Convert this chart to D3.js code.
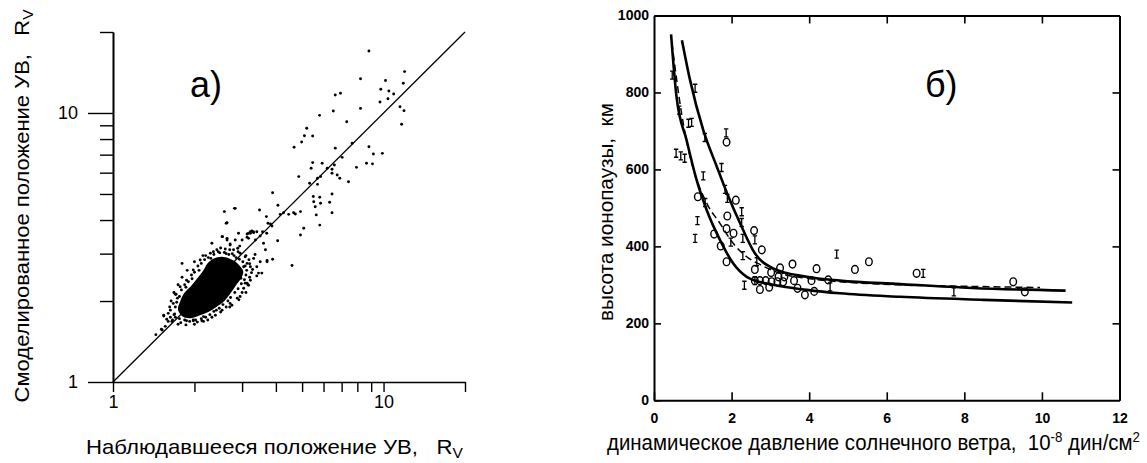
<!DOCTYPE html>
<html><head><meta charset="utf-8">
<script src="https://cdn.jsdelivr.net/npm/d3@7"></script>
<style>
body{margin:0;background:#fff}
svg{display:block}
text{font-family:Arial,"Liberation Sans",sans-serif;white-space:pre;fill:#000}
</style>
</head><body>
<svg id="c" width="1147" height="463"></svg>
<script>
// ---------- Panel a data (log-log, R_V units) ----------
const aTicksMajor = [1, 10];
const aTicksMinor = [2, 3, 4, 5, 6, 7, 8, 9, 20];
const aTickLabels = ["1", "10"];
const aDomain = [1, 20];
// outline of the dense core of observations
const aCoreOutline = [
  [1.74,1.85],[1.77,1.99],[1.84,2.15],[1.94,2.27],[2.05,2.43],[2.16,2.6],[2.23,2.75],
  [2.35,2.87],[2.52,2.92],[2.69,2.88],[2.84,2.8],[2.96,2.68],[3.03,2.58],[2.99,2.45],
  [2.85,2.29],[2.73,2.15],[2.58,2.0],[2.41,1.9],[2.25,1.82],[2.1,1.77],[1.96,1.73],[1.83,1.74]
];
// individual observed/modelled points
const aPoints = [
  [8.83,17.0],[11.96,14.25],[8.22,13.4],[10.17,13.2],[9.77,12.25],[10.46,12.07],[10.9,11.77],
  [11.83,12.9],[9.7,10.99],[10.38,11.3],[11.5,10.55],[11.9,10.2],[11.66,9.08],[8.22,10.4],
  [6.63,11.67],[6.93,11.84],[6.52,10.17],[5.8,9.8],[7.31,9.28],[5.2,8.77],[5.1,8.23],
  [5.47,8.21],[4.98,7.8],[4.67,7.46],[7.66,7.72],[6.63,7.4],[7.03,6.84],[8.83,7.49],
  [9.17,7.04],[9.9,7.08],[8.65,6.5],[9.1,6.47],[7.94,6.28],[7.42,5.55],[6.89,5.72],
  [6.74,5.88],[6.45,6.18],[6.58,6.41],[6.19,6.23],[6.45,5.97],[5.93,6.5],[5.85,5.8],
  [5.7,5.72],[5.47,6.54],[5.4,6.23],[5.33,5.48],[5.7,5.43],[4.86,5.8],[5.5,4.89],
  [5.52,4.68],[5.85,4.62],[5.81,4.86],[6.45,5.0],[6.32,4.66],[6.45,4.26],[5.81,3.83],
  [5.64,4.18],[5.59,4.48],[5.07,3.73],[4.93,3.52],[4.65,4.26],[4.72,4.21],[4.93,4.3],
  [3.89,5.05],[4.07,4.54],[3.48,4.36],[3.69,4.12],[4.15,4.2],[4.27,4.26],[4.46,4.2],
  [3.74,3.89],[3.82,3.87],[3.87,3.8],[3.57,3.62],[3.7,3.57],[4.06,3.35],[3.4,3.62],
  [3.22,3.57],[3.26,3.64],[3.17,3.42],[3.36,3.37],[2.58,4.3],[2.81,4.42],[2.64,3.91],
  [3.0,3.37],[3.13,3.45],[2.54,3.47],[2.64,3.37],[2.71,3.26],[2.91,3.57],[2.94,3.2],
  [4.59,2.71],[3.89,2.86],[3.71,2.83],[3.55,2.54],[3.4,2.48],[2.71,1.96],[2.53,2.02],
  [1.80,2.76],[1.71,2.12],[1.44,1.5],[1.52,1.56],[1.54,1.77],[2.16,1.68],[1.98,1.70],
  [2.41,1.85],[3.17,2.29],[3.08,2.33],[2.97,2.43],[3.13,2.76],[3.04,2.68],[3.17,3.57],
  [3.3,3.62],[2.83,3.37],[2.83,4.42],[2.62,3.89],
  [1.70,2.12],[1.54,1.76],[1.58,1.71],[1.56,1.61],[1.51,1.57],[1.63,1.74],
  [1.65,1.68],[1.87,1.69],[1.98,1.69],[2.13,1.69],[2.16,1.75],[2.32,3.28],[2.53,3.47],
  [2.64,3.42],[2.71,3.23],[2.89,3.14],[3.13,3.55],[3.22,3.62],[3.31,3.59],[3.50,3.49],
  [3.60,3.28],[3.66,3.10],[3.71,2.80],[3.50,2.80],[3.45,2.54],[3.22,2.39],[3.13,2.33],
  [3.04,2.23],[2.95,2.08],[2.75,1.93],[2.53,1.85],[2.39,1.77],[3.22,2.68],[3.31,2.88],
  [2.79,3.10],[2.95,3.01],[3.08,2.92],[2.42,3.10],[2.29,3.01],[2.10,2.84],[1.98,2.61],
  [1.87,2.39],[1.77,2.26],[1.67,1.96],[1.63,1.85],[1.93,1.85],
  [2.2,2.95],[2.45,3.05],[2.62,3.0],[2.8,2.95],[3.18,2.85],[3.25,2.55],[3.1,2.15],
  [2.92,2.02],[2.62,1.9],[2.32,1.74],[2.05,1.67],[1.78,1.66],[1.69,1.79],[1.73,2.05],
  [1.86,2.25],[1.96,2.42],[2.08,2.6],[2.3,2.88],[2.6,3.12],[3.35,2.98],[3.4,2.68],
  [1.68,1.78],[1.7,1.9],[1.72,1.98],[1.76,2.08],[1.79,2.2],[1.84,2.3],[1.9,2.36],[1.95,2.5],
  [2.0,2.56],[2.06,2.7],[2.12,2.76],[2.18,2.85],[2.25,2.9],[2.36,2.98],[2.48,3.02],[2.58,3.03],
  [2.68,2.98],[2.76,3.0],[2.85,2.9],[2.93,2.86],[3.02,2.8],[3.08,2.7],[3.12,2.6],[3.1,2.5],
  [3.06,2.4],[2.98,2.32],[2.9,2.22],[2.82,2.15],[2.72,2.06],[2.66,2.0],[2.55,1.94],[2.47,1.88],
  [2.36,1.83],[2.28,1.78],[2.2,1.74],[2.12,1.72],[2.02,1.7],[1.92,1.68],[1.84,1.7],[1.76,1.72],
  [1.7,1.74],[1.66,1.7],[1.74,1.64],[1.86,1.63],[2.0,1.64],[2.24,1.7],[2.5,1.82],[2.7,1.9],
  [2.88,2.05],[3.0,2.15],[3.15,2.3],[3.2,2.45],[3.28,2.62],[3.2,2.75],[3.1,2.95],[2.9,3.05],
  [2.7,3.1],[2.5,3.15],[2.35,3.05],[2.15,2.95],[2.0,2.8],[1.88,2.6],[1.8,2.45],[1.74,2.3],
  [1.68,2.15],[1.64,2.0],[1.62,1.9],[1.6,1.8],[1.6,1.68]
];

// ---------- Panel b data ----------
const bXTicks = [0, 2, 4, 6, 8, 10, 12];
const bYTicks = [0, 200, 400, 600, 800, 1000];
const bUpperCurve = [
  [0.72,936],[0.93,832],[1.27,702],[1.62,607],[1.92,529],[2.22,460],[2.6,382],[3.07,343],
  [3.94,321],[4.79,311],[6.34,302],[8.2,292],[10.61,285]
];
const bLowerCurve = [
  [0.44,951],[0.58,789],[0.84,676],[1.10,572],[1.36,494],[1.70,417],[2.04,356],[2.39,321],
  [3.07,300],[3.94,287],[4.79,278],[6.34,269],[8.5,261],[10.78,254]
];
const bDashedCurve = [
  [0.46,930],[0.71,746],[0.93,633],[1.36,512],[1.70,460],[2.04,408],[2.39,373],[2.75,352],
  [3.25,330],[3.94,317],[4.79,308],[6.34,300],[8.2,296],[9.95,293]
];
const bCircles = [
  [1.87,671],[1.13,529],[2.11,520],[1.89,479],[1.87,446],[2.05,434],[1.55,432],[2.58,441],
  [1.72,401],[2.78,391],[1.87,360],[2.6,340],[3.57,354],[4.19,342],[5.18,340],[5.54,360],
  [3.02,332],[3.25,344],[3.21,321],[3.36,321],[2.6,311],[2.73,311],[2.88,311],[3.03,308],
  [3.18,308],[3.33,308],[3.61,311],[2.73,288],[2.97,294],[3.70,291],[3.89,274],[4.13,283],
  [4.06,311],[4.49,313],[6.77,330],[9.26,308],[9.56,282]
];
const bBars = [
  [0.47,845],[1.06,811],[0.65,754],[0.89,720],[0.97,722],[1.31,683],[1.86,695],[0.57,642],
  [0.69,635],[0.79,629],[1.74,605],[1.27,583],[1.83,548],[1.89,525],[1.32,514],[2.26,490],
  [2.26,462],[1.12,467],[1.06,421],[2.6,417],[2.29,421],[1.98,411],[2.29,376],[2.65,360],
  [2.33,299],[2.6,311],[4.71,380],[4.54,295],[6.94,330],[7.73,282]
];

const svg = d3.select("#c");

// fit a text to a target length by horizontal scaling (condensed scan font)
function fitScaleX(sel, target, tx, ty, rot) {
  const len = sel.node().getComputedTextLength();
  const s = target / len;
  sel.attr("transform", `translate(${tx},${ty})` + (rot ? ` rotate(${rot})` : "") + ` scale(${s.toFixed(4)},1)`);
}

// ================= Panel a =================
const xa = d3.scaleLog().domain(aDomain).range([113, 465]);
const ya = d3.scaleLog().domain(aDomain).range([382, 32]);
const ga = svg.append("g");

ga.append("g").attr("transform", "translate(113,0)")
  .call(d3.axisLeft(ya).tickValues(aTicksMinor).tickSize(13).tickSizeOuter(0).tickFormat(""));
ga.append("g").attr("transform", "translate(113,0)")
  .call(d3.axisLeft(ya).tickValues(aTicksMajor).tickSize(25).tickSizeOuter(0).tickPadding(10)
    .tickFormat((d, i) => aTickLabels[i]));
ga.append("g").attr("transform", "translate(0,382)")
  .call(d3.axisBottom(xa).tickValues(aTicksMajor.concat(aTicksMinor)).tickSize(10).tickSizeOuter(0).tickPadding(3)
    .tickFormat(d => { const i = aTicksMajor.indexOf(d); return i >= 0 ? aTickLabels[i] : ""; }));
ga.selectAll(".domain").attr("stroke", "#000").attr("stroke-width", 1.6);
ga.selectAll(".tick line").attr("stroke", "#000").attr("stroke-width", 1.4);
ga.selectAll(".tick text").attr("font-size", 18).attr("font-family", "Arial, 'Liberation Sans', sans-serif");

ga.append("line")
  .attr("x1", xa(aDomain[0])).attr("y1", ya(aDomain[0]))
  .attr("x2", xa(aDomain[1])).attr("y2", ya(aDomain[1]))
  .attr("stroke", "#000").attr("stroke-width", 1.3);

ga.append("path")
  .attr("d", d3.line().x(d => xa(d[0])).y(d => ya(d[1])).curve(d3.curveCatmullRomClosed)(aCoreOutline))
  .attr("fill", "#000");
ga.selectAll("circle.pt").data(aPoints).join("circle")
  .attr("class", "pt").attr("cx", d => xa(d[0])).attr("cy", d => ya(d[1])).attr("r", 1.45).attr("fill", "#000");

ga.append("text").attr("x", 190).attr("y", 97).attr("font-size", 36)
  .attr("font-family", "'Liberation Serif', 'Times New Roman', serif").text("а)");

const ayt = ga.append("text").attr("text-anchor", "middle").attr("font-size", 20);
ayt.append("tspan").text("Смоделированное положение УВ,   R");
ayt.append("tspan").attr("font-size", "70%").attr("dy", "0.3em").text("V");
fitScaleX(ayt, 393, 29, 206, -90);

const axt = ga.append("text").attr("font-size", 20);
axt.append("tspan").text("Наблюдавшееся положение УВ,   R");
axt.append("tspan").attr("font-size", "70%").attr("dy", "0.25em").text("V");
fitScaleX(axt, 377, 86, 454, 0);

// ================= Panel b =================
const xb = d3.scaleLinear().domain([0, 12]).range([654, 1119.5]);
const yb = d3.scaleLinear().domain([0, 1000]).range([400.3, 15.5]);
const gb = svg.append("g");

gb.append("g").attr("transform", "translate(654,0)")
  .call(d3.axisLeft(yb).tickValues(bYTicks).tickSize(-7).tickSizeOuter(0).tickPadding(5).tickFormat(d3.format("d")));
gb.append("g").attr("transform", "translate(0,400.3)")
  .call(d3.axisBottom(xb).tickValues(bXTicks).tickSize(-8).tickSizeOuter(0).tickPadding(13).tickFormat(d3.format("d")));
gb.append("g").attr("transform", "translate(0,15.5)")
  .call(d3.axisTop(xb).tickValues(bXTicks.slice(1, -1)).tickSize(-8).tickSizeOuter(0).tickFormat(""));
gb.append("g").attr("transform", "translate(1119.5,0)")
  .call(d3.axisRight(yb).tickValues(bYTicks.slice(1, -1)).tickSize(-7).tickSizeOuter(0).tickFormat(""));
gb.selectAll(".domain").attr("stroke", "#000").attr("stroke-width", 2);
gb.selectAll(".tick line").attr("stroke", "#000").attr("stroke-width", 1.6);
gb.selectAll(".tick text").attr("font-size", 14).attr("font-weight", "bold")
  .attr("font-family", "Arial, 'Liberation Sans', sans-serif");

const lineB = d3.line().x(d => xb(d[0])).y(d => yb(d[1])).curve(d3.curveMonotoneX);
gb.append("path").attr("d", lineB(bUpperCurve)).attr("fill", "none").attr("stroke", "#000").attr("stroke-width", 2.6);
gb.append("path").attr("d", lineB(bLowerCurve)).attr("fill", "none").attr("stroke", "#000").attr("stroke-width", 2.6);
gb.append("path").attr("d", lineB(bDashedCurve)).attr("fill", "none").attr("stroke", "#000").attr("stroke-width", 1.5)
  .attr("stroke-dasharray", "7,4");

gb.selectAll("ellipse.o").data(bCircles).join("ellipse").attr("class", "o")
  .attr("cx", d => xb(d[0])).attr("cy", d => yb(d[1])).attr("rx", 3.3).attr("ry", 3.9)
  .attr("fill", "none").attr("stroke", "#000").attr("stroke-width", 1.4);
// serif "I" marks drawn as paths
gb.selectAll("path.bar").data(bBars).join("path").attr("class", "bar")
  .attr("d", d => {
    const x = xb(d[0]), y = yb(d[1]);
    return `M${x - 2.2},${y - 4}H${x + 2.2}M${x},${y - 4}V${y + 4}M${x - 2.2},${y + 4}H${x + 2.2}`;
  })
  .attr("fill", "none").attr("stroke", "#000").attr("stroke-width", 1.3);

gb.append("text").attr("x", 925).attr("y", 97).attr("font-size", 36)
  .attr("font-family", "'Liberation Serif', 'Times New Roman', serif").text("б)");

const byt = gb.append("text").attr("text-anchor", "middle").attr("font-size", 21).text("высота ионопаузы,  км");
fitScaleX(byt, 218, 613, 212, -90);

const bxt = gb.append("text").attr("font-size", 21.5);
bxt.append("tspan").text("динамическое давление солнечного ветра,  10");
bxt.append("tspan").attr("font-size", "65%").attr("dy", "-0.55em").text("-8");
bxt.append("tspan").attr("dy", "0.36em").text(" дин/см");
bxt.append("tspan").attr("font-size", "65%").attr("dy", "-0.55em").text("2");
fitScaleX(bxt, 533, 607, 450, 0);
</script>
</body></html>
